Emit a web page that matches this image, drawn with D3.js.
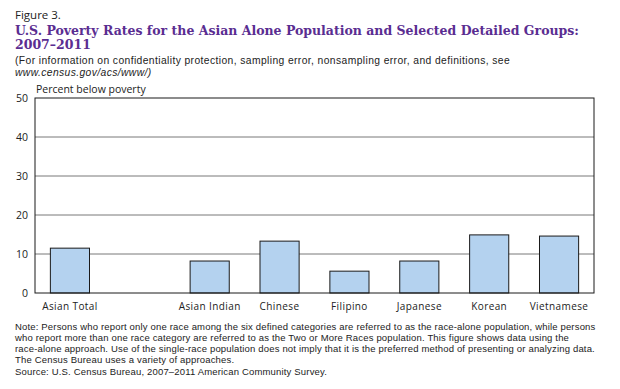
<!DOCTYPE html>
<html>
<head>
<meta charset="utf-8">
<script src="https://cdn.jsdelivr.net/npm/d3@7"></script>
<style>
  body { margin: 0; background: #fff; }
  svg { font-family: "Open Sans", "DejaVu Sans", sans-serif; }
</style>
</head>
<body>
<script>
// Chart size
const width = 620, height = 389;

// Data
const groups = ["Asian Total", "", "Asian Indian", "Chinese", "Filipino", "Japanese", "Korean", "Vietnamese"];
const rates = [11.5, null, 8.2, 13.3, 5.6, 8.2, 14.9, 14.6];
const yTicks = [0, 10, 20, 30, 40, 50];

const noteLines = [
    "Note: Persons who report only one race among the six defined categories are referred to as the race-alone population, while persons",
    "who report more than one race category are referred to as the Two or More Races population. This figure shows data using the",
    "race-alone approach. Use of the single-race population does not imply that it is the preferred method of presenting or analyzing data.",
    "The Census Bureau uses a variety of approaches."
];

const svg = d3.select("body")
    .append("svg")
    .attr("width", width)
    .attr("height", height);

// Plot area
const plotLeft = 35, plotRight = 594, plotTop = 98, plotBottom = 293;

const x = d3.scaleBand()
    .domain(groups)
    .range([plotLeft, plotRight])
    .paddingInner(0.44)
    .paddingOuter(0.22);

const y = d3.scaleLinear()
    .domain([0, 50])
    .range([plotBottom, plotTop]);

// Header texts
svg.append("text")
    .attr("x", 15).attr("y", 19)
    .attr("font-size", "11.5px").attr("fill", "#222")
    .text("Figure 3.");

const titleStyle = t => t
    .style("font-family", "'DejaVu Serif', serif")
    .attr("font-weight", "bold")
    .attr("font-size", "12.5px")
    .attr("fill", "#5a2d91");

svg.append("text").attr("x", 15).attr("y", 35).call(titleStyle)
    .text("U.S. Poverty Rates for the Asian Alone Population and Selected Detailed Groups:");
svg.append("text").attr("x", 15).attr("y", 49).call(titleStyle)
    .text("2007–2011");

// Subtitle (Liberation Sans keeps the two line boxes apart)
const smallStyle = t => t
    .style("font-family", "'Liberation Sans', Arial, sans-serif")
    .attr("font-size", "10.3px")
    .attr("letter-spacing", "0.4px")
    .attr("fill", "#222");

svg.append("text")
    .attr("x", 15).attr("y", 64)
    .call(smallStyle)
    .text("(For information on confidentiality protection, sampling error, nonsampling error, and definitions, see");
svg.append("text")
    .attr("x", 15).attr("y", 76)
    .call(smallStyle)
    .attr("font-style", "italic")
    .text("www.census.gov/acs/www/)");

// Y axis label
svg.append("text")
    .attr("x", plotLeft + 1).attr("y", 93)
    .attr("font-size", "10.5px").attr("fill", "#222")
    .text("Percent below poverty");

// Gridlines
svg.selectAll(".grid")
    .data(yTicks.filter(d => d > 0 && d < 50))
    .enter()
    .append("line")
    .attr("class", "grid")
    .attr("x1", plotLeft).attr("x2", plotRight)
    .attr("y1", d => y(d)).attr("y2", d => y(d))
    .attr("stroke", "#555")
    .attr("stroke-width", 0.8);

// Y tick labels
svg.selectAll(".ytick")
    .data(yTicks)
    .enter()
    .append("text")
    .attr("class", "ytick")
    .attr("x", 28)
    .attr("y", d => y(d))
    .attr("dy", "0.35em")
    .attr("text-anchor", "end")
    .attr("font-size", "10.5px")
    .attr("fill", "#222")
    .text(d => d);

// Bars
const barData = groups.map((g, i) => ({ g, v: rates[i] })).filter(d => d.v !== null);

svg.selectAll(".bar")
    .data(barData)
    .enter()
    .append("rect")
    .attr("class", "bar")
    .attr("x", d => x(d.g))
    .attr("y", d => y(d.v))
    .attr("width", x.bandwidth())
    .attr("height", d => y(0) - y(d.v))
    .attr("fill", "#b4d2ef")
    .attr("stroke", "#1a1a1a")
    .attr("stroke-width", 1);

// Frame
svg.append("rect")
    .attr("x", plotLeft).attr("y", plotTop)
    .attr("width", plotRight - plotLeft).attr("height", plotBottom - plotTop)
    .attr("fill", "none")
    .attr("stroke", "#1a1a1a")
    .attr("stroke-width", 1);

// X labels
svg.selectAll(".xlabel")
    .data(barData)
    .enter()
    .append("text")
    .attr("class", "xlabel")
    .attr("x", d => x(d.g) + x.bandwidth() / 2)
    .attr("y", 310)
    .attr("text-anchor", "middle")
    .attr("font-size", "10px")
    .attr("letter-spacing", "0.4px")
    .attr("fill", "#222")
    .text(d => d.g);

// Notes
const noteStyle = t => t
    .style("font-family", "'Liberation Sans', Arial, sans-serif")
    .attr("font-size", "9.5px")
    .attr("letter-spacing", "0.17px")
    .attr("fill", "#222");

svg.selectAll(".note")
    .data(noteLines)
    .enter()
    .append("text")
    .attr("class", "note")
    .attr("x", 15)
    .attr("y", (d, i) => 330 + i * 11)
    .call(noteStyle)
    .text(d => d);

svg.append("text")
    .attr("x", 15).attr("y", 375)
    .call(noteStyle)
    .text("Source: U.S. Census Bureau, 2007–2011 American Community Survey.");
</script>
</body>
</html>
